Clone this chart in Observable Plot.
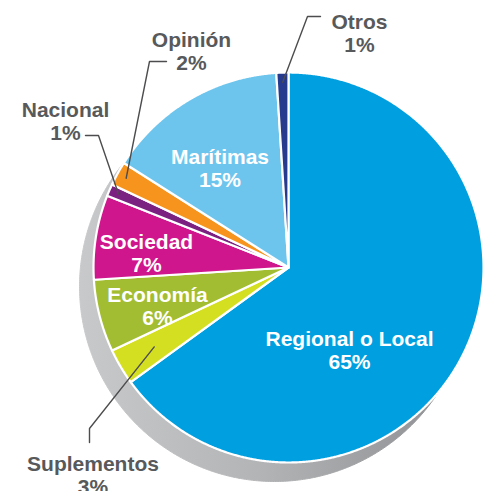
<!DOCTYPE html>
<html>
<head>
<meta charset="utf-8">
<script src="https://cdn.jsdelivr.net/npm/d3@7"></script>
<script src="https://cdn.jsdelivr.net/npm/@observablehq/plot@0.6"></script>
<style>
  html, body { margin: 0; padding: 0; background: #ffffff; }
  #chart svg { display: block; }
</style>
</head>
<body>
<div id="chart"></div>
<script>
// ---- data ----
const categories = ["Regional o Local", "Suplementos", "Economía", "Sociedad", "Nacional", "Opinión", "Marítimas", "Otros"];
const percents   = [65, 3, 6, 7, 1, 2, 15, 1];
const sliceColors = ["#009fdf", "#d5df22", "#a2bd31", "#cf168c", "#7b2182", "#f7941e", "#6dc5ee", "#263a8e"];
const insideLabel = [true, false, true, true, false, false, true, false];

// ---- layout (pixels relative to pie centre; not data) ----
const R = 195;                 // pie radius in px
const CX = 288, CY = 267;      // pie centre in px
const W = 485, H = 491;
const labelLayout = {
  "Regional o Local": {tx: 61,    ty: 83},
  "Suplementos":      {tx: -195.5, ty: 207.3, f: 0.80, e1: [-3.5, -46.3], e2: [-3.5, -32.3]},
  "Economía":         {tx: -131,  ty: 38.3},
  "Sociedad":         {tx: -142,  ty: -14.2},
  "Nacional":         {tx: -223,  ty: -146, f: 0.95, e1: [33, 14], e2: [20, 14]},
  "Opinión":          {tx: -97,   ty: -216.3, f: 0.95, e1: [-42, 10.3], e2: [-25, 10.3]},
  "Marítimas":        {tx: -68.5, ty: -99},
  "Otros":            {tx: 71,    ty: -234.2, f: 0.95, e1: [-52, -16.8], e2: [-39, -16.8]}
};

// ---- derived geometry (unit radius, y up) ----
const arcs = d3.pie().sort(null).value(d => d)(percents);
const polar = (a, r) => ({u: r * Math.sin(a), v: r * Math.cos(a)});
const px = (dx, dy) => ({u: dx / R, v: -dy / R});

const slicePts = [];
arcs.forEach((a, i) => {
  const name = categories[i];
  slicePts.push({name, ...polar(0, 0)});
  const steps = Math.max(4, Math.ceil((a.endAngle - a.startAngle) / (Math.PI / 720)));
  for (let k = 0; k <= steps; k++) {
    const t = a.startAngle + (a.endAngle - a.startAngle) * k / steps;
    slicePts.push({name, ...polar(t, 1)});
  }
  slicePts.push({name, u: 0, v: 0});
});

const disc = d3.range(0, 721).map(k => ({name: "all", ...polar(k / 720 * 2 * Math.PI, 1)}));

const labels = categories.map((name, i) => {
  const L = labelLayout[name];
  const p = px(L.tx, L.ty);
  return {name, text: `${name}\n${percents[i]}%`, u: p.u, v: p.v, inside: insideLabel[i]};
});

const leaders = [];
categories.forEach((name, i) => {
  const L = labelLayout[name];
  if (insideLabel[i]) return;
  const a = arcs[i];
  const mid = (a.startAngle + a.endAngle) / 2;
  leaders.push({name, ...px(L.tx + L.e2[0], L.ty + L.e2[1])});
  leaders.push({name, ...px(L.tx + L.e1[0], L.ty + L.e1[1])});
  leaders.push({name, ...polar(mid, L.f)});
});

const font = "'Liberation Sans', Arial, sans-serif";

const chart = Plot.plot({
  width: W,
  height: H,
  margin: 0,
  x: {domain: [-CX / R, (W - CX) / R], axis: null},
  y: {domain: [-(H - CY) / R, CY / R], axis: null},
  color: {domain: categories, range: sliceColors},
  style: {background: "#ffffff"},
  marks: [
    Plot.line(disc, {x: "u", y: "v", z: "name", fill: "url(#shadowGrad)", stroke: "url(#shadowGrad)", strokeWidth: 1, dx: -14, dy: 19}),
    Plot.line(slicePts, {x: "u", y: "v", z: "name", fill: "name", stroke: "#ffffff", strokeWidth: 2.2, strokeLinejoin: "round"}),
    Plot.line(leaders, {x: "u", y: "v", z: "name", stroke: "#4d4d4f", strokeWidth: 1.4, strokeLinejoin: "miter"}),
    Plot.text(labels, {
      x: "u", y: "v", text: "text",
      fill: d => d.inside ? "#ffffff" : "#58595b",
      fontSize: 21, fontWeight: "bold", fontFamily: font,
      lineHeight: 1.1, textAnchor: "middle"
    })
  ]
});

// gradient for the shadow
const svg = d3.select(chart);
const defs = svg.insert("defs", ":first-child");
const g = defs.append("linearGradient")
  .attr("id", "shadowGrad")
  .attr("gradientUnits", "userSpaceOnUse")
  .attr("x1", 75).attr("y1", 0).attr("x2", 470).attr("y2", 0);
g.append("stop").attr("offset", "0").attr("stop-color", "#cacbcd");
g.append("stop").attr("offset", "0.5").attr("stop-color", "#b3b4b6");
g.append("stop").attr("offset", "1").attr("stop-color", "#8e8f92");

document.getElementById("chart").appendChild(chart);
</script>
</body>
</html>
